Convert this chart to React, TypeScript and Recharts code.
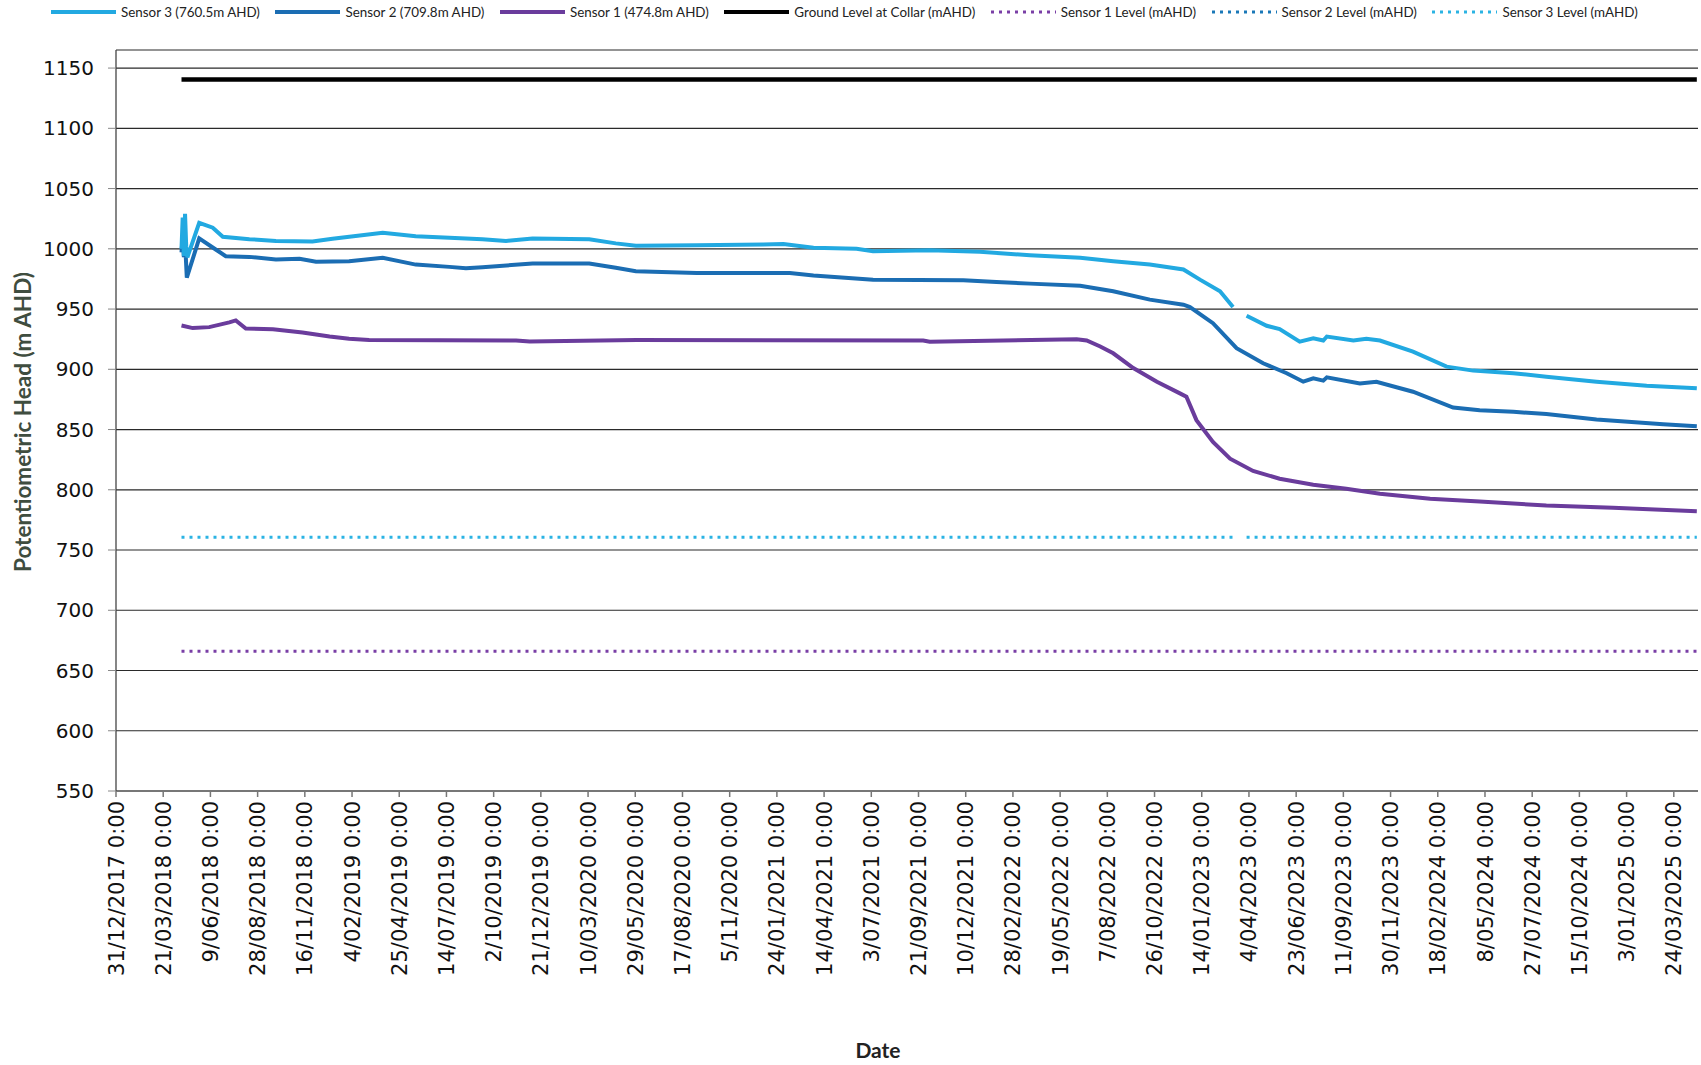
import React from 'react';
import { LineChart, Line, XAxis, YAxis, CartesianGrid, Label } from 'recharts';

// ---------- data (dates as ISO, values in m AHD) ----------
const tickDates: string[] = [
  '2017-12-31', '2018-03-21', '2018-06-09', '2018-08-28', '2018-11-16', '2019-02-04',
  '2019-04-25', '2019-07-14', '2019-10-02', '2019-12-21', '2020-03-10', '2020-05-29',
  '2020-08-17', '2020-11-05', '2021-01-24', '2021-04-14', '2021-07-03', '2021-09-21',
  '2021-12-10', '2022-02-28', '2022-05-19', '2022-08-07', '2022-10-26', '2023-01-14',
  '2023-04-04', '2023-06-23', '2023-09-11', '2023-11-30', '2024-02-18', '2024-05-08',
  '2024-07-27', '2024-10-15', '2025-01-03', '2025-03-24',
];
const xStart = '2017-12-31';
const xEnd = '2025-05-04';
const yTicks: number[] = [550, 600, 650, 700, 750, 800, 850, 900, 950, 1000, 1050, 1100, 1150];
const yMin = 550;
const yMax = 1165;

const sensor3: [string, number | null][] = [
  ['2018-04-21', 1000], ['2018-04-23', 1026], ['2018-04-25', 994], ['2018-04-27', 1029],
  ['2018-04-29', 1002], ['2018-05-01', 993], ['2018-05-21', 1021.5], ['2018-06-13', 1017.5],
  ['2018-06-30', 1010], ['2018-08-14', 1008], ['2018-09-28', 1006.5], ['2018-11-29', 1006],
  ['2019-01-02', 1008.3], ['2019-03-28', 1013.3], ['2019-05-23', 1010.5], ['2019-07-19', 1009.2],
  ['2019-09-13', 1008], ['2019-10-23', 1006.5], ['2019-12-07', 1008.6], ['2020-03-12', 1008],
  ['2020-04-26', 1004.5], ['2020-05-30', 1002.5], ['2020-09-10', 1003], ['2021-01-01', 1003.6],
  ['2021-02-04', 1003.9], ['2021-03-27', 1000.8], ['2021-06-08', 1000], ['2021-07-06', 998],
  ['2021-10-10', 998.9], ['2022-01-03', 997.5], ['2022-03-29', 994.7], ['2022-06-22', 992.5],
  ['2022-08-17', 989.7], ['2022-10-18', 986.9], ['2022-12-14', 982.8], ['2023-01-11', 974.4],
  ['2023-02-14', 964.7], ['2023-03-08', 951.7], ['2023-03-20', null], ['2023-03-31', 944.4],
  ['2023-05-04', 936.1], ['2023-05-26', 933.3], ['2023-06-29', 923], ['2023-07-22', 925.8],
  ['2023-08-08', 923.9], ['2023-08-14', 927.2], ['2023-09-28', 923.9], ['2023-10-20', 925.3],
  ['2023-11-12', 923.9], ['2024-01-07', 914.7], ['2024-03-04', 902.2], ['2024-04-18', 898.9],
  ['2024-06-25', 896.7], ['2024-08-20', 893.9], ['2024-11-13', 889.7], ['2025-02-06', 886.4],
  ['2025-05-02', 884.2],
];

const sensor2: [string, number | null][] = [
  ['2018-04-21', 997], ['2018-04-23', 1010], ['2018-04-25', 993], ['2018-04-27', 1006],
  ['2018-04-30', 976], ['2018-05-21', 1008.6], ['2018-06-18', 999.4], ['2018-07-05', 993.9],
  ['2018-08-14', 993.3], ['2018-09-28', 991.1], ['2018-11-07', 991.7], ['2018-12-05', 989.2],
  ['2019-01-30', 989.7], ['2019-03-28', 992.5], ['2019-05-23', 986.9], ['2019-07-19', 985],
  ['2019-08-16', 983.9], ['2019-09-13', 984.7], ['2019-12-07', 987.8], ['2020-03-12', 987.8],
  ['2020-04-26', 984.2], ['2020-05-30', 981.4], ['2020-09-10', 980], ['2021-02-15', 980],
  ['2021-03-27', 977.8], ['2021-07-06', 974.4], ['2021-12-06', 973.9], ['2022-01-31', 972.5],
  ['2022-03-29', 971.1], ['2022-06-22', 969.4], ['2022-08-17', 964.7], ['2022-10-18', 957.8],
  ['2022-12-14', 953.6], ['2022-12-25', 951.7], ['2023-02-02', 938.3], ['2023-03-14', 917.5],
  ['2023-04-28', 905], ['2023-06-07', 896.7], ['2023-07-05', 889.7], ['2023-07-22', 892.5],
  ['2023-08-08', 890.6], ['2023-08-14', 893.3], ['2023-10-09', 888.3], ['2023-11-06', 889.7],
  ['2024-01-07', 881.4], ['2024-03-15', 868.3], ['2024-04-29', 866.1], ['2024-06-25', 864.7],
  ['2024-08-20', 862.8], ['2024-11-13', 858.3], ['2025-03-06', 854.4], ['2025-05-02', 852.8],
];

const sensor1: [string, number | null][] = [
  ['2018-04-21', 936.4], ['2018-05-10', 934.2], ['2018-06-07', 935], ['2018-07-11', 938.9],
  ['2018-07-22', 940.6], ['2018-08-08', 933.9], ['2018-09-23', 933.3], ['2018-11-12', 930.6],
  ['2018-12-28', 927.2], ['2019-01-30', 925.3], ['2019-03-05', 924.4], ['2019-11-09', 923.9],
  ['2019-12-02', 923.1], ['2020-05-31', 924.4], ['2021-09-29', 923.9], ['2021-10-10', 922.8],
  ['2022-06-16', 925], ['2022-07-03', 923.9], ['2022-07-26', 918.9], ['2022-08-17', 913.3],
  ['2022-09-20', 901], ['2022-10-30', 889.7], ['2022-12-08', 880], ['2022-12-19', 877.2],
  ['2023-01-05', 857.8], ['2023-02-02', 839.7], ['2023-03-03', 825.8], ['2023-04-11', 815.6],
  ['2023-05-26', 809.2], ['2023-07-22', 804.2], ['2023-09-16', 800.8], ['2023-11-12', 796.7],
  ['2024-02-05', 792.5], ['2024-04-29', 790.3], ['2024-08-20', 786.9], ['2024-12-11', 785],
  ['2025-05-02', 782.2],
];

const groundLevel: [string, number | null][] = [['2018-04-21', 1140.5], ['2025-05-02', 1140.5]];
const sensor1Level: [string, number | null][] = [['2018-04-21', 666], ['2025-05-02', 666]];
const sensor2Level: [string, number | null][] = [];
const sensor3Level: [string, number | null][] = [
  ['2018-04-21', 760.5], ['2023-03-08', 760.5], ['2023-03-20', null], ['2023-03-31', 760.5], ['2025-05-02', 760.5],
];

// ---------- helpers ----------
const toDay = (s: string) => {
  const [y, m, d] = s.split('-').map(Number);
  return Date.UTC(y, m - 1, d) / 86400000;
};
const fmtDate = (t: number) => {
  const dt = new Date(Math.round(t) * 86400000);
  return `${dt.getUTCDate()}/${String(dt.getUTCMonth() + 1).padStart(2, '0')}/${dt.getUTCFullYear()} 0:00`;
};
const toRows = (arr: [string, number | null][]) => arr.map(([d, v]) => ({ t: toDay(d), v }));

const series = [
  { key: 's3', name: 'Sensor 3 (760.5m AHD)', data: sensor3, color: '#22A9E1', width: 4, dotted: false },
  { key: 's2', name: 'Sensor 2 (709.8m AHD)', data: sensor2, color: '#1B6DB3', width: 4, dotted: false },
  { key: 's1', name: 'Sensor 1 (474.8m AHD)', data: sensor1, color: '#6A3C9C', width: 4, dotted: false },
  { key: 'gl', name: 'Ground Level at Collar (mAHD)', data: groundLevel, color: '#000000', width: 4.5, dotted: false },
  { key: 's1l', name: 'Sensor 1 Level (mAHD)', data: sensor1Level, color: '#7A3FA6', width: 3, dotted: true },
  { key: 's2l', name: 'Sensor 2 Level (mAHD)', data: sensor2Level, color: '#1A78B8', width: 3, dotted: true },
  { key: 's3l', name: 'Sensor 3 Level (mAHD)', data: sensor3Level, color: '#2BB3E3', width: 3, dotted: true },
];
// draw order: levels first, then ground, then sensors
const drawOrder = ['s1l', 's2l', 's3l', 'gl', 's1', 's2', 's3'];

const XTick = (props: any) => {
  const { x, y, payload } = props;
  return (
    <text
      x={x}
      y={y}
      transform={`rotate(-90 ${x} ${y})`}
      textAnchor="end"
      dy="0.36em"
      fontSize={21}
      fontFamily="DejaVu Sans"
      fill="#111"
    >
      {fmtDate(payload.value)}
    </text>
  );
};

const YTitle = () => (
  <text
    x={22}
    y={422}
    transform="rotate(-90 22 422)"
    textAnchor="middle"
    dominantBaseline="central"
    fontSize={22.5}
    fontWeight="bold"
    fontFamily="Lato"
    fill="#3f4d3f"
  >
    Potentiometric Head (m AHD)
  </text>
);

const XTitle = () => (
  <text x={878} y={1049} textAnchor="middle" dominantBaseline="central" fontSize={21} fontWeight="bold" fontFamily="Lato" fill="#222">
    Date
  </text>
);

const LegendRow = () => (
  <div
    style={{
      position: 'absolute',
      top: 2,
      left: 51,
      height: 20,
      display: 'flex',
      alignItems: 'center',
      fontFamily: 'Lato',
      fontSize: 13.4,
      color: '#222',
      whiteSpace: 'nowrap',
    }}
  >
    {series.map((s) => (
      <div key={s.key} style={{ display: 'flex', alignItems: 'center', marginRight: 15.5 }}>
        <svg width={65} height={10} style={{ display: 'block' }}>
          <line
            x1={0}
            y1={5}
            x2={65}
            y2={5}
            stroke={s.color}
            strokeWidth={s.dotted ? 3 : 4}
            strokeDasharray={s.dotted ? '3 5' : undefined}
          />
        </svg>
        <span style={{ marginLeft: 5 }}>{s.name}</span>
      </div>
    ))}
  </div>
);

export default function App() {
  const ticks = tickDates.map(toDay);
  return (
    <div style={{ position: 'absolute', left: 0, top: 0, width: 1701, height: 1065, background: '#fff' }}>
      <LegendRow />
      <LineChart
        width={1701}
        height={1065}
        margin={{ top: 50, right: 3, bottom: 0, left: 0 }}
        style={{ position: 'absolute', left: 0, top: 0 }}
      >
        <CartesianGrid vertical={false} stroke="#2a2a2a" strokeWidth={1.2} />
        <XAxis
          type="number"
          dataKey="t"
          domain={[toDay(xStart), toDay(xEnd)]}
          ticks={ticks}
          allowDataOverflow
          height={274}
          tick={<XTick />}
          tickSize={6}
          tickMargin={4}
          interval={0}
          axisLine={{ stroke: '#777', strokeWidth: 2 }}
          tickLine={{ stroke: '#777', strokeWidth: 1.5 }}
        >
          <Label content={<XTitle />} />
        </XAxis>
        <YAxis
          type="number"
          domain={[yMin, yMax]}
          ticks={yTicks}
          allowDataOverflow
          width={116}
          tickSize={8}
          tickMargin={14}
          interval={0}
          tick={{ fontSize: 20, fontFamily: 'DejaVu Sans', fill: '#111' }}
          axisLine={{ stroke: '#444', strokeWidth: 1.3 }}
          tickLine={{ stroke: '#888', strokeWidth: 1 }}
        >
          <Label content={<YTitle />} />
        </YAxis>
        {drawOrder.map((k) => {
          const s = series.find((x) => x.key === k)!;
          return (
            <Line
              key={s.key}
              data={toRows(s.data)}
              dataKey="v"
              name={s.name}
              type="linear"
              stroke={s.color}
              strokeWidth={s.width}
              strokeDasharray={s.dotted ? '3 5' : undefined}
              dot={false}
              activeDot={false}
              connectNulls={false}
              isAnimationActive={false}
            />
          );
        })}
      </LineChart>
    </div>
  );
}
